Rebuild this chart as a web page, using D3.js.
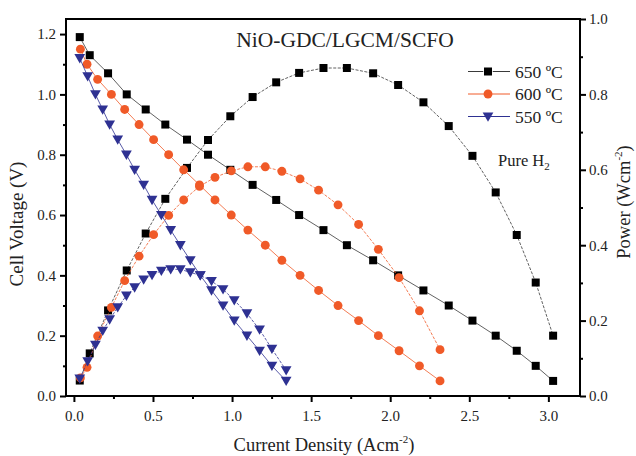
<!DOCTYPE html>
<html>
<head>
<meta charset="utf-8">
<script src="https://cdn.jsdelivr.net/npm/d3@7"></script>
<style>
  body { margin: 0; background: #fff; }
  svg { display: block; font-family: "Liberation Serif", "Times New Roman", serif; }
</style>
</head>
<body>
<svg width="636" height="456"></svg>
<script>
// values
const current650 = [0.037, 0.10, 0.216, 0.334, 0.454, 0.578, 0.715, 0.848, 0.989, 1.13, 1.279, 1.424, 1.578, 1.726, 1.892, 2.05, 2.21, 2.37, 2.52, 2.667, 2.80, 2.92, 3.03];
const volt650 = [1.19, 1.13, 1.07, 1.00, 0.95, 0.90, 0.85, 0.80, 0.75, 0.70, 0.65, 0.60, 0.55, 0.50, 0.45, 0.40, 0.35, 0.30, 0.25, 0.20, 0.15, 0.10, 0.05];
const power650 = [0.041, 0.113, 0.227, 0.333, 0.431, 0.523, 0.605, 0.679, 0.742, 0.793, 0.832, 0.857, 0.870, 0.870, 0.856, 0.825, 0.779, 0.716, 0.637, 0.540, 0.427, 0.301, 0.160];

const current600 = [0.041, 0.083, 0.15, 0.237, 0.321, 0.412, 0.504, 0.599, 0.694, 0.794, 0.892, 0.995, 1.10, 1.21, 1.315, 1.43, 1.547, 1.67, 1.80, 1.925, 2.056, 2.185, 2.315];
const volt600 = [1.15, 1.10, 1.05, 1.00, 0.95, 0.90, 0.85, 0.80, 0.75, 0.70, 0.65, 0.60, 0.55, 0.50, 0.45, 0.40, 0.35, 0.30, 0.25, 0.20, 0.15, 0.10, 0.05];
const power600 = [0.048, 0.076, 0.159, 0.235, 0.306, 0.371, 0.428, 0.479, 0.520, 0.556, 0.580, 0.597, 0.608, 0.608, 0.596, 0.576, 0.546, 0.507, 0.455, 0.389, 0.314, 0.226, 0.123];

const current550 = [0.037, 0.087, 0.136, 0.182, 0.226, 0.277, 0.332, 0.384, 0.441, 0.494, 0.553, 0.612, 0.673, 0.736, 0.799, 0.87, 0.943, 1.014, 1.094, 1.174, 1.252, 1.342];
const volt550 = [1.12, 1.06, 1.00, 0.95, 0.90, 0.85, 0.80, 0.75, 0.70, 0.65, 0.60, 0.55, 0.50, 0.45, 0.40, 0.35, 0.30, 0.25, 0.20, 0.15, 0.10, 0.05];
const power550 = [0.046, 0.092, 0.136, 0.173, 0.203, 0.235, 0.266, 0.288, 0.309, 0.321, 0.332, 0.336, 0.336, 0.328, 0.320, 0.305, 0.283, 0.254, 0.219, 0.176, 0.125, 0.068];

const seriesNames = ["650 ºC", "600 ºC", "550 ºC"];
const xTicks = [0, 0.5, 1.0, 1.5, 2.0, 2.5, 3.0];
const voltTicks = [0, 0.2, 0.4, 0.6, 0.8, 1.0, 1.2];
const powerTicks = [0, 0.2, 0.4, 0.6, 0.8, 1.0];

const width = 636,
  height = 456;
const m = { left: 66, right: 56, top: 19, bottom: 60 };

const svg = d3.select("svg");

const x = d3.scaleLinear().domain([-0.05, 3.2]).range([m.left, width - m.right]);
const yV = d3.scaleLinear().domain([0, 1.25]).range([height - m.bottom, m.top]);
const yP = d3.scaleLinear().domain([0, 1.0]).range([height - m.bottom, m.top]);

const series = [
  { name: seriesNames[0], color: "#000000", line: "#3a3a3a", shape: d3.symbolSquare, size: 64, rot: 0, cur: current650, volt: volt650, pow: power650 },
  { name: seriesNames[1], color: "#f05a28", line: "#f05a28", shape: d3.symbolCircle, size: 62, rot: 0, cur: current600, volt: volt600, pow: power600 },
  { name: seriesNames[2], color: "#2e3192", line: "#2e3192", shape: d3.symbolTriangle, size: 50, rot: 180, cur: current550, volt: volt550, pow: power550 }
];

// axes
const fmt = d3.format(".1f");
const bottom = height - m.bottom;

function minorOf(major, step) {
  return major.slice(0, -1).map(v => v + step / 2);
}

svg.append("g").attr("transform", `translate(0,${bottom})`)
  .call(d3.axisBottom(x).tickValues(minorOf(xTicks, 0.5)).tickSize(3).tickFormat(""));
svg.append("g").attr("transform", `translate(0,${bottom})`)
  .call(d3.axisBottom(x).tickValues(xTicks).tickSize(6).tickPadding(8).tickFormat(fmt));

svg.append("g").attr("transform", `translate(${m.left},0)`)
  .call(d3.axisLeft(yV).tickValues(minorOf(voltTicks, 0.2)).tickSize(3).tickFormat(""));
svg.append("g").attr("transform", `translate(${m.left},0)`)
  .call(d3.axisLeft(yV).tickValues(voltTicks).tickSize(6).tickPadding(4).tickFormat(fmt));

svg.append("g").attr("transform", `translate(${width - m.right},0)`)
  .call(d3.axisRight(yP).tickValues(minorOf(powerTicks, 0.2)).tickSize(3).tickFormat(""));
svg.append("g").attr("transform", `translate(${width - m.right},0)`)
  .call(d3.axisRight(yP).tickValues(powerTicks).tickSize(6).tickPadding(3).tickFormat(fmt));

svg.selectAll(".domain").remove();
svg.selectAll(".tick line").attr("stroke", "#000").attr("stroke-width", 2);
svg.selectAll(".tick text").attr("font-size", 15).attr("fill", "#222").attr("font-family", "Liberation Serif, serif");

// frame
svg.append("rect")
  .attr("x", m.left)
  .attr("y", m.top)
  .attr("width", width - m.left - m.right)
  .attr("height", height - m.top - m.bottom)
  .attr("fill", "none")
  .attr("stroke", "#000")
  .attr("stroke-width", 2);

// curves
const plot = svg.append("g");
series.forEach(s => {
  const vPts = s.cur.map((c, i) => [x(c), yV(s.volt[i])]);
  const pPts = s.cur.map((c, i) => [x(c), yP(s.pow[i])]);
  const line = d3.line();
  plot.append("path").attr("d", line(vPts)).attr("fill", "none")
    .attr("stroke", s.line).attr("stroke-width", 0.8);
  plot.append("path").attr("d", line(pPts)).attr("fill", "none")
    .attr("stroke", s.line).attr("stroke-width", 0.8).attr("stroke-dasharray", "3,1.5");
  const sym = d3.symbol().type(s.shape).size(s.size)();
  plot.selectAll(null).data(vPts.concat(pPts)).enter()
    .append("path")
    .attr("d", sym)
    .attr("transform", d => `translate(${d[0]},${d[1] + (s.rot ? -1 : 0)}) rotate(${s.rot})`)
    .attr("fill", s.color);
});

// title
svg.append("text")
  .attr("x", 345)
  .attr("y", 47)
  .attr("text-anchor", "middle")
  .attr("font-size", 21.5)
  .attr("fill", "#222")
  .text("NiO-GDC/LGCM/SCFO");

// legend
const leg = svg.append("g");
series.forEach((s, i) => {
  const ly = 71.5 + i * 22.5;
  leg.append("line").attr("x1", 468).attr("x2", 510).attr("y1", ly).attr("y2", ly)
    .attr("stroke", s.line).attr("stroke-width", 1);
  leg.append("path").attr("d", d3.symbol().type(s.shape).size(s.size)())
    .attr("transform", `translate(488,${ly + (s.rot ? -1 : 0)}) rotate(${s.rot})`)
    .attr("fill", s.color)
    .attr("stroke", i === 0 ? "#fff" : "none")
    .attr("stroke-width", i === 0 ? 1.5 : 0)
    .attr("paint-order", "stroke");
  leg.append("text").attr("x", 515).attr("y", ly + 6).attr("font-size", 17.5).attr("fill", "#222").text(s.name);
});

// Pure H2 note
const note = svg.append("text").attr("x", 498).attr("y", 165.5).attr("font-size", 16.5).attr("fill", "#222");
note.append("tspan").text("Pure H");
note.append("tspan").attr("font-size", 11).attr("dy", 4).text("2");

// axis titles
const xt = svg.append("text")
  .attr("x", 324)
  .attr("y", 451)
  .attr("text-anchor", "middle")
  .attr("font-size", 18.5)
  .attr("fill", "#222");
xt.append("tspan").text("Current Density (Acm");
xt.append("tspan").attr("font-size", 11).attr("dy", -8).text("-2");
xt.append("tspan").attr("dy", 8).text(")");

svg.append("text")
  .attr("transform", "translate(23,224) rotate(-90)")
  .attr("text-anchor", "middle")
  .attr("font-size", 19)
  .attr("fill", "#222")
  .text("Cell Voltage (V)");

const pt = svg.append("text")
  .attr("transform", "translate(630,202) rotate(-90)")
  .attr("text-anchor", "middle")
  .attr("font-size", 18.5)
  .attr("fill", "#222");
pt.append("tspan").text("Power (Wcm");
pt.append("tspan").attr("font-size", 11).attr("dy", -8).text("-2");
pt.append("tspan").attr("dy", 8).text(")");
</script>
</body>
</html>
